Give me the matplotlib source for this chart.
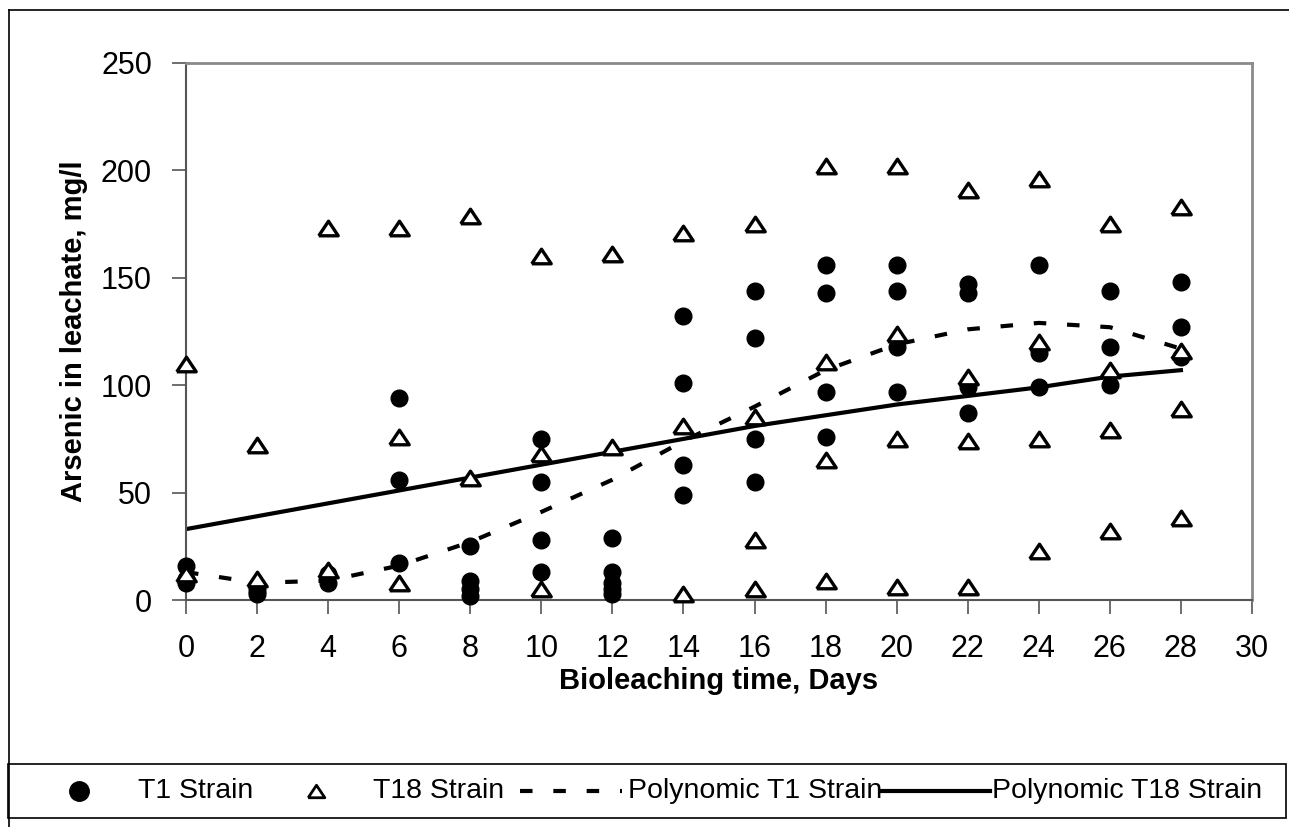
import matplotlib
matplotlib.use("Agg")
import matplotlib.pyplot as plt
from matplotlib.lines import Line2D
from matplotlib.patches import Rectangle

plt.rcParams['font.family'] = ['Liberation Sans', 'DejaVu Sans']

# T1 strain measurements (day, arsenic mg/l)
t1_days = [0, 0, 0, 2, 2, 2, 4, 4, 6, 6, 6, 8, 8, 8, 8,
           10, 10, 10, 10, 12, 12, 12, 12, 12, 14, 14, 14, 14,
           16, 16, 16, 16, 18, 18, 18, 18, 20, 20, 20, 20,
           22, 22, 22, 22, 24, 24, 24, 26, 26, 26, 28, 28, 28]
t1_vals = [16, 10, 8, 6, 4, 3, 12, 8, 94, 56, 17, 25, 9, 5, 2,
           75, 55, 28, 13, 29, 13, 8, 5, 3, 132, 101, 63, 49,
           144, 122, 75, 55, 156, 143, 97, 76, 156, 144, 118, 97,
           147, 143, 99, 87, 156, 115, 99, 144, 118, 100, 148, 127, 113]

# T18 strain measurements
t18_days = [0, 0, 2, 2, 4, 4, 6, 6, 6, 8, 8, 10, 10, 10, 12, 12,
            14, 14, 14, 16, 16, 16, 16, 18, 18, 18, 18, 20, 20, 20, 20,
            22, 22, 22, 22, 24, 24, 24, 24, 26, 26, 26, 26, 28, 28, 28, 28]
t18_vals = [110, 12, 72, 10, 173, 14, 173, 76, 8, 179, 57, 160, 68, 5, 161, 71,
            171, 81, 3, 175, 85, 28, 5, 202, 111, 65, 9, 202, 124, 75, 6,
            191, 104, 74, 6, 196, 120, 75, 23, 175, 107, 79, 32, 183, 116, 89, 38]

# polynomial trendlines
trend_days = [0, 2, 4, 6, 8, 10, 12, 14, 16, 18, 20, 22, 24, 26, 28]
trend_t1 = [13, 8, 9, 16, 27, 41, 56, 74, 90, 107, 119, 126, 129, 127, 117]
trend_t18 = [33, 39, 45, 51, 57, 63, 69, 75, 81, 86, 91, 95, 99, 104, 107]

W, H = 1289, 827
tri = [(-1, -0.75), (1, -0.75), (0, 0.75), (-1, -0.75)]
dash = (0, (3, 5))

fig = plt.figure(figsize=(W / 100, H / 100), dpi=100)
ax = fig.add_axes([186/W, 1 - 600/H, (1252-186)/W, (600-63)/H])

ax.plot(trend_days, trend_t1, color='black', lw=3, linestyle=dash, zorder=2)
ax.plot(trend_days, trend_t18, color='black', lw=3, linestyle='-', zorder=2)
ax.plot(t1_days, t1_vals, 'o', color='black', ms=12, linestyle='none',
        zorder=3, clip_on=False)
ax.plot(t18_days, t18_vals, marker=tri, mfc='white', mec='black', mew=2.4, ms=14,
        linestyle='none', zorder=4, clip_on=False)

ax.set_xlim(0, 30)
ax.set_ylim(0, 250)
ax.set_xticks(range(0, 31, 2))
ax.set_yticks(range(0, 251, 50))
ax.tick_params(direction='out', length=10, width=1.2, color='#555555',
               labelsize=22, pad=14.5)
for s in ['left', 'bottom']:
    ax.spines[s].set_color('#555555')
    ax.spines[s].set_linewidth(1.5)
for s in ['top', 'right']:
    ax.spines[s].set_color('#8a8a8a')
    ax.spines[s].set_linewidth(2)

ax.set_xlabel('Bioleaching time, Days', fontsize=21, fontweight='bold', labelpad=2)
ax.set_ylabel('Arsenic in leachate, mg/l', fontsize=21, fontweight='bold', labelpad=9)


def fx(px):
    return px / W


def fy(py):
    return 1 - py / H


# outer chart frame
fig.add_artist(Line2D([fx(9), fx(9)], [0, fy(10)], color='black', lw=1.2))
fig.add_artist(Line2D([fx(9), 1], [fy(10), fy(10)], color='black', lw=1.2))

# legend box drawn across the bottom
fig.add_artist(Rectangle((fx(8), fy(818)), fx(1286) - fx(8), fy(764) - fy(818),
                         transform=fig.transFigure, fill=True, facecolor='white',
                         edgecolor='black', lw=1.2))
ly = fy(791)
fig.add_artist(Line2D([fx(79)], [ly], marker='o', color='black', ms=14, linestyle='none'))
fig.add_artist(Line2D([fx(316)], [ly], marker=tri, mfc='white', mec='black', mew=2,
                      ms=12, linestyle='none'))
fig.add_artist(Line2D([fx(520), fx(622)], [ly, ly], color='black', lw=3, linestyle=dash))
fig.add_artist(Line2D([fx(882), fx(990)], [ly, ly], color='black', lw=3))
for x0, txt in [(138, 'T1 Strain'), (373, 'T18 Strain'),
                (628, 'Polynomic T1 Strain'), (992, 'Polynomic T18 Strain')]:
    fig.text(fx(x0), ly, txt, fontsize=20.5, va='center', ha='left')

fig.savefig('out.png', dpi=100)
